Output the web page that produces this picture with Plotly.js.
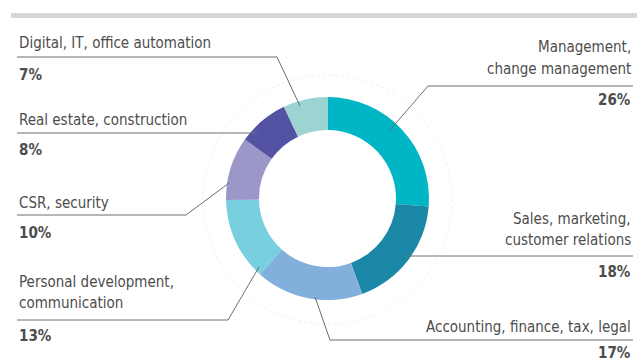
<!DOCTYPE html>
<html>
<head>
<meta charset="utf-8">
<script src="https://cdn.plot.ly/plotly-3.0.1.min.js"></script>
<style>
  html, body { margin: 0; padding: 0; background: #fff; }
  #chart { width: 637px; height: 361px; }
</style>
</head>
<body>
<div id="chart"></div>
<script>
// training topics, share of hours (clockwise from 12 o'clock)
var categories = [
  'Management,|change management',
  'Sales, marketing,|customer relations',
  'Accounting, finance, tax, legal',
  'Personal development,|communication',
  'CSR, security',
  'Real estate, construction',
  'Digital, IT, office automation'
];
var shares = [26, 18, 17, 13, 10, 8, 7];
var colors = ['#00b5c4', '#1b87a7', '#83afdd', '#77cfe0', '#9b98c9', '#5453a3', '#9dd3d2'];

var W = 637, H = 361;
function px(x) { return x / W; }
function py(y) { return 1 - y / H; }

// label placement (pixels): side, text x, centre y of each text line, pct centre y, leader path
var place = [
  {side: 'right', x: 633, ty: [47, 69],   py: 100, pts: [[633, 86], [428, 86], [390, 130]]},
  {side: 'right', x: 633, ty: [219, 240], py: 272, pts: [[633, 256], [407, 256]]},
  {side: 'right', x: 633, ty: [327],      py: 353, pts: [[633, 340], [330, 340], [315, 297]]},
  {side: 'left',  x: 17,  ty: [282, 303], py: 336, pts: [[17, 320], [228, 320], [259, 267]]},
  {side: 'left',  x: 17,  ty: [203],      py: 233, pts: [[17, 215], [186, 215], [229, 183]]},
  {side: 'left',  x: 17,  ty: [120],      py: 150, pts: [[17, 133], [258, 133]]},
  {side: 'left',  x: 17,  ty: [43],       py: 75,  pts: [[17, 57], [277, 57], [300, 106]]}
];

var font = 'DejaVu Sans Condensed, sans-serif';
var annotations = [];
var shapes = [];

// grey rule at the top
shapes.push({type: 'rect', xref: 'paper', yref: 'paper', x0: px(11), x1: px(637), y0: py(13), y1: py(18),
  fillcolor: '#d6d6d6', line: {width: 0}, layer: 'below'});
// faint outer ring
shapes.push({type: 'circle', xref: 'paper', yref: 'paper',
  x0: px(327.5 - 124.5), x1: px(327.5 + 124.5), y0: py(199.5 + 124.5), y1: py(199.5 - 124.5),
  line: {color: '#ebf2f5', width: 1, dash: 'dot'}, layer: 'below'});

categories.forEach(function (c, i) {
  var p = place[i];
  var anchor = p.side === 'right' ? 'right' : 'left';
  c.split('|').forEach(function (line, k) {
    annotations.push({xref: 'paper', yref: 'paper', x: px(p.x), y: py(p.ty[k]), xanchor: anchor, yanchor: 'middle',
      text: line, showarrow: false, font: {family: font, size: 15, color: '#4d4d4d'}});
  });
  annotations.push({xref: 'paper', yref: 'paper', x: px(p.x), y: py(p.py), xanchor: anchor, yanchor: 'middle',
    text: '<b>' + shares[i] + '%</b>', showarrow: false, font: {family: font, size: 15, color: '#4d4d4d'}});
  var d = p.pts.map(function (q, k) { return (k ? 'L' : 'M') + px(q[0]) + ',' + py(q[1]); }).join(' ');
  shapes.push({type: 'path', xref: 'paper', yref: 'paper', path: d, line: {color: '#6e6e6e', width: 1}});
});

var data = [{
  type: 'pie',
  values: shares,
  labels: categories.map(function (c) { return c.replace('|', ' '); }),
  hole: 0.675,
  sort: false,
  direction: 'clockwise',
  rotation: 0,
  marker: {colors: colors, line: {width: 0}},
  textinfo: 'none',
  hoverinfo: 'none',
  domain: {x: [px(226), px(429)], y: [py(300), py(97)]}
}];

var layout = {
  width: W,
  height: H,
  margin: {l: 0, r: 0, t: 0, b: 0},
  showlegend: false,
  paper_bgcolor: '#ffffff',
  shapes: shapes,
  annotations: annotations
};

Plotly.newPlot('chart', data, layout, {staticPlot: true});
</script>
</body>
</html>
